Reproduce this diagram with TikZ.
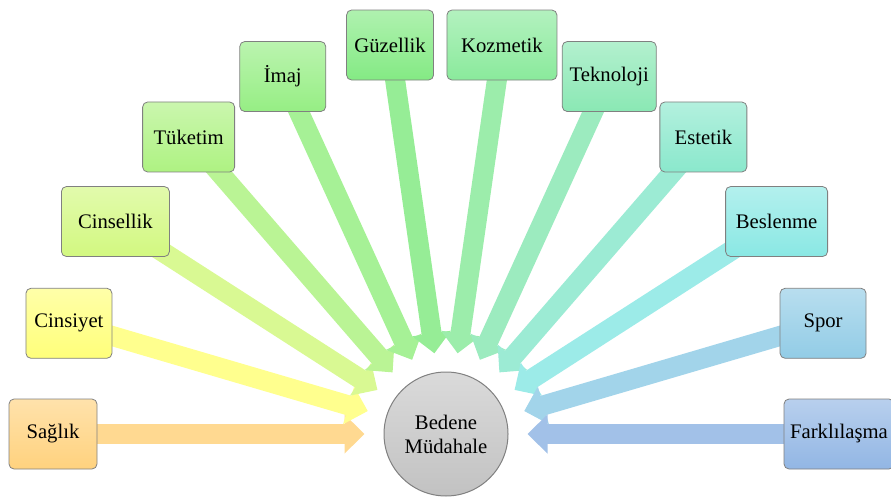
\documentclass[tikz,border=0pt]{standalone}
\usepackage{fontspec}
\setmainfont{Liberation Serif}
\usetikzlibrary{arrows.meta,backgrounds}
\definecolor{cSaglik}{HTML}{FFD27E}
\definecolor{cCinsiyet}{HTML}{FFFF7A}
\definecolor{cCinsellik}{HTML}{D2F880}
\definecolor{cTuketim}{HTML}{AEF282}
\definecolor{cImaj}{HTML}{96EE84}
\definecolor{cGuzellik}{HTML}{84EA84}
\definecolor{cKozmetik}{HTML}{8AEA9C}
\definecolor{cTeknoloji}{HTML}{8AE8B4}
\definecolor{cEstetik}{HTML}{8AE8CC}
\definecolor{cBeslenme}{HTML}{8AE8E4}
\definecolor{cSpor}{HTML}{92CCE6}
\definecolor{cFark}{HTML}{92B6E4}
\definecolor{hubtop}{HTML}{DADADA}
\definecolor{hubbot}{HTML}{C2C2C2}
\tikzset{
  item/.style={draw=black!50, line width=0.8pt, rounded corners=5pt,
    minimum height=70pt, inner sep=4pt, font=\fontsize{20.7}{24}\selectfont},
  hub/.style={circle, draw=black!50, line width=1pt, minimum size=124pt,
    inner sep=0pt, align=center, top color=hubtop, bottom color=hubbot,
    font=\fontsize{20.7}{24}\selectfont},
  feed/.style={line width=20pt, -{Triangle[length=20pt,width=38pt]}, shorten >=19pt}
}
\begin{document}
\begin{tikzpicture}[x=1pt,y=1pt]
  \useasboundingbox (0,0) rectangle (891,496);
  \node[hub] (c) at (446,62) {Bedene\\Müdahale};
  \foreach[count=\i,evaluate={180-(\i-1)*180/11} as \a] \t/\w/\col in {%
      Sağlık/88/cSaglik, Cinsiyet/86/cCinsiyet, Cinsellik/108/cCinsellik,
      Tüketim/92/cTuketim, İmaj/86/cImaj, Güzellik/87/cGuzellik,
      Kozmetik/110/cKozmetik, Teknoloji/94/cTeknoloji, Estetik/87/cEstetik,
      Beslenme/102/cBeslenme, Spor/86/cSpor, Farklılaşma/110/cFark} {
    \node[item, minimum width=\w pt, top color=\col!65!white, bottom color=\col]
      (b\i) at ([shift={(\a:393)}]c) {\t};
    \begin{scope}[on background layer]
      \draw[feed, draw=\col!85!white] (b\i.center) -- (c);
    \end{scope}
  }
\end{tikzpicture}
\end{document}
